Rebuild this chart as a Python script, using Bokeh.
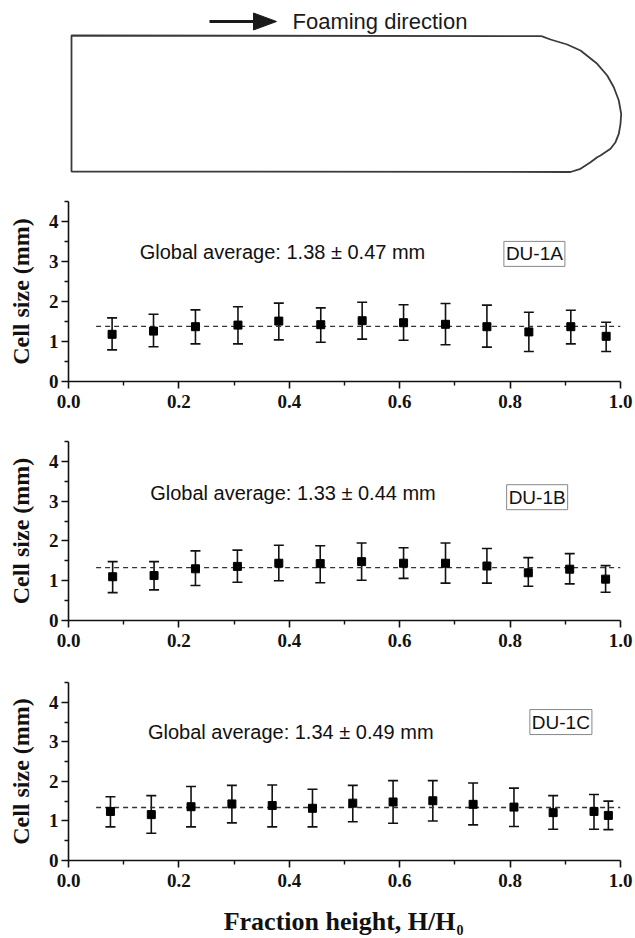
from bokeh.plotting import figure
from bokeh.layouts import column
from bokeh.models import (ColumnDataSource, Whisker, TeeHead, FixedTicker, Label, Range1d)
from bokeh.core.properties import value
from bokeh.embed import file_html
from bokeh.resources import INLINE

# ---------------- data ----------------
x_ticks = [0.0, 0.2, 0.4, 0.6, 0.8, 1.0]
x_tick_labels = ["0.0", "0.2", "0.4", "0.6", "0.8", "1.0"]
x_minor = [0.1, 0.3, 0.5, 0.7, 0.9]
y_ticks = [0, 1, 2, 3, 4]
y_tick_labels = ["0", "1", "2", "3", "4"]
y_minor = [0.5, 1.5, 2.5, 3.5, 4.5]

samples = ["DU-1A", "DU-1B", "DU-1C"]
averages = [1.38, 1.33, 1.34]
stdevs = [0.47, 0.44, 0.49]
avg_line_start = 0.05

x1 = [0.079, 0.154, 0.230, 0.307, 0.381, 0.457, 0.532, 0.607, 0.683, 0.758, 0.834, 0.910, 0.974]
y1 = [1.18, 1.26, 1.37, 1.41, 1.51, 1.42, 1.52, 1.47, 1.43, 1.37, 1.24, 1.37, 1.13]
up1 = [1.59, 1.68, 1.79, 1.87, 1.96, 1.84, 1.98, 1.92, 1.95, 1.91, 1.73, 1.78, 1.48]
lo1 = [0.79, 0.87, 0.94, 0.94, 1.04, 0.98, 1.06, 1.03, 0.92, 0.86, 0.75, 0.94, 0.75]

x2 = [0.080, 0.155, 0.230, 0.306, 0.381, 0.456, 0.531, 0.607, 0.683, 0.758, 0.833, 0.908, 0.973]
y2 = [1.10, 1.13, 1.30, 1.36, 1.44, 1.43, 1.48, 1.44, 1.44, 1.37, 1.20, 1.29, 1.04]
up2 = [1.48, 1.48, 1.75, 1.77, 1.89, 1.88, 1.95, 1.83, 1.95, 1.81, 1.58, 1.68, 1.38]
lo2 = [0.70, 0.77, 0.88, 0.96, 1.00, 0.95, 1.01, 1.06, 0.94, 0.94, 0.86, 0.92, 0.71]

x3 = [0.076, 0.150, 0.222, 0.296, 0.369, 0.442, 0.515, 0.588, 0.660, 0.733, 0.807, 0.878, 0.952, 0.978]
y3 = [1.24, 1.16, 1.36, 1.43, 1.39, 1.32, 1.45, 1.48, 1.51, 1.42, 1.35, 1.21, 1.24, 1.14]
up3 = [1.61, 1.64, 1.87, 1.90, 1.91, 1.80, 1.90, 2.02, 2.02, 1.96, 1.83, 1.64, 1.67, 1.50]
lo3 = [0.85, 0.69, 0.85, 0.95, 0.85, 0.85, 0.98, 0.94, 1.00, 0.90, 0.86, 0.79, 0.79, 0.78]

# schematic outline (page pixel coordinates)
outline_x = [541, 71, 71, 570, 580, 590, 596.7, 600, 610, 615, 618.3, 620, 620.7,
             618.3, 613.3, 606.7, 596.7, 580, 566.7, 550, 541]
outline_y = [35.7, 35, 171, 171.5, 168.3, 161.7, 156.7, 155, 148.3, 141.7, 133.3, 123.3, 113.3,
             100, 86.7, 75, 63.3, 50, 44, 39, 35.7]

SANS = "Liberation Sans"
SERIF = "Liberation Serif"
W = 635

# ---------------- schematic ----------------
top = figure(width=W, height=193, x_range=Range1d(0, W), y_range=Range1d(193, 0),
             output_backend="svg", toolbar_location=None, min_border=0)
top.frame_align = False
top.axis.visible = False
top.grid.visible = False
top.outline_line_color = None
top.line(outline_x, outline_y, line_color="#3a3a3a", line_width=1.8)
top.line([209, 256], [21, 21], line_color="#1a1a1a", line_width=3.2)
top.patch([253, 276, 253], [12.5, 21, 29.5], fill_color="#1a1a1a", line_color="#1a1a1a")
top.text(x=[292], y=[21], text=["Foaming direction"], text_baseline="middle", text_align="left",
         text_font=value(SANS), text_font_size="22px", text_color="#1a1a1a")


def panel(xs, ys, ups, los, avg, sd, name, height, b_top, b_bot,
          txt_pos, box_pos):
    p = figure(width=W, height=height, x_range=Range1d(0, 1.0), y_range=Range1d(0, 4.5),
               output_backend="svg", toolbar_location=None,
               min_border_left=68, min_border_right=15,
               min_border_top=b_top, min_border_bottom=b_bot)
    p.grid.visible = False
    p.outline_line_color = None
    p.background_fill_color = "white"

    for ax in (p.xaxis[0], p.yaxis[0]):
        ax.axis_line_width = 1.6
        ax.axis_line_color = "#111111"
        ax.major_tick_line_width = 1.6
        ax.minor_tick_line_width = 1.4
        ax.major_tick_line_color = "#111111"
        ax.minor_tick_line_color = "#111111"
        ax.major_tick_out = 7
        ax.major_tick_in = 0
        ax.minor_tick_out = 4
        ax.minor_tick_in = 0
        ax.major_label_text_font = SERIF
        ax.major_label_text_font_style = "bold"
        ax.major_label_text_font_size = "19px"
        ax.major_label_text_color = "#111111"

    p.xaxis.ticker = FixedTicker(ticks=x_ticks, minor_ticks=x_minor)
    p.xaxis.major_label_overrides = {t: l for t, l in zip(x_ticks, x_tick_labels)}
    p.xaxis.major_label_standoff = 6
    p.yaxis.ticker = FixedTicker(ticks=y_ticks, minor_ticks=y_minor)
    p.yaxis.major_label_overrides = {t: l for t, l in zip(y_ticks, y_tick_labels)}
    p.yaxis.major_label_standoff = 3
    p.yaxis.axis_label = "Cell size (mm)"
    p.yaxis.axis_label_text_font = SERIF
    p.yaxis.axis_label_text_font_style = "bold"
    p.yaxis.axis_label_text_font_size = "24px"
    p.yaxis.axis_label_text_color = "#111111"
    p.yaxis.axis_label_standoff = 12

    p.line([avg_line_start, 1.0], [avg, avg], line_color="#333333", line_width=1.3,
           line_dash="5 4")

    src = ColumnDataSource(dict(x=xs, y=ys, up=ups, lo=los))
    w = Whisker(base="x", upper="up", lower="lo", source=src, line_width=1.6,
                line_color="#111111",
                upper_head=TeeHead(size=10, line_width=1.6, line_color="#111111"),
                lower_head=TeeHead(size=10, line_width=1.6, line_color="#111111"))
    p.add_layout(w)
    p.scatter("x", "y", source=src, marker="square", size=8, fill_color="#000000",
              line_color="#000000")

    p.add_layout(Label(x=txt_pos[0], y=txt_pos[1],
                       text=f"Global average: {avg:.2f} \u00b1 {sd:.2f} mm",
                       text_font=SANS, text_font_size="20px", text_color="#111111",
                       text_align="left", text_baseline="middle"))
    p.add_layout(Label(x=box_pos[0], y=box_pos[1], text=name,
                       text_font=SANS, text_font_size="19px", text_color="#111111",
                       text_align="center", text_baseline="middle",
                       border_line_color="#888888", border_line_width=1,
                       background_fill_color="white", padding=2))
    return p


p1 = panel(x1, y1, up1, lo1, averages[0], stdevs[0], samples[0], 240, 8, 52,
           (0.129, 3.25), (0.844, 3.19))
p2 = panel(x2, y2, up2, lo2, averages[1], stdevs[1], samples[1], 240, 8, 53,
           (0.148, 3.21), (0.849, 3.10))
p3 = panel(x3, y3, up3, lo3, averages[2], stdevs[2], samples[2], 224, 9, 37,
           (0.144, 3.24), (0.892, 3.50))

# x axis label with subscript
bot = figure(width=W, height=41, x_range=Range1d(0, W), y_range=Range1d(938, 897),
             output_backend="svg", toolbar_location=None, min_border=0)
bot.frame_align = False
bot.axis.visible = False
bot.grid.visible = False
bot.outline_line_color = None
bot.text(x=[455], y=[921], text=["Fraction height, H/H"], text_align="right",
         text_baseline="alphabetic", text_font=value(SERIF), text_font_style="bold",
         text_font_size="26px", text_color="#111111")
bot.text(x=[456], y=[929], text=["0"], text_align="left", text_baseline="alphabetic",
         text_font=value(SERIF), text_font_style="bold", text_font_size="14px",
         text_color="#111111")

layout = column(top, p1, p2, p3, bot, spacing=0)
open("out.html", "w").write(file_html(layout, INLINE))
